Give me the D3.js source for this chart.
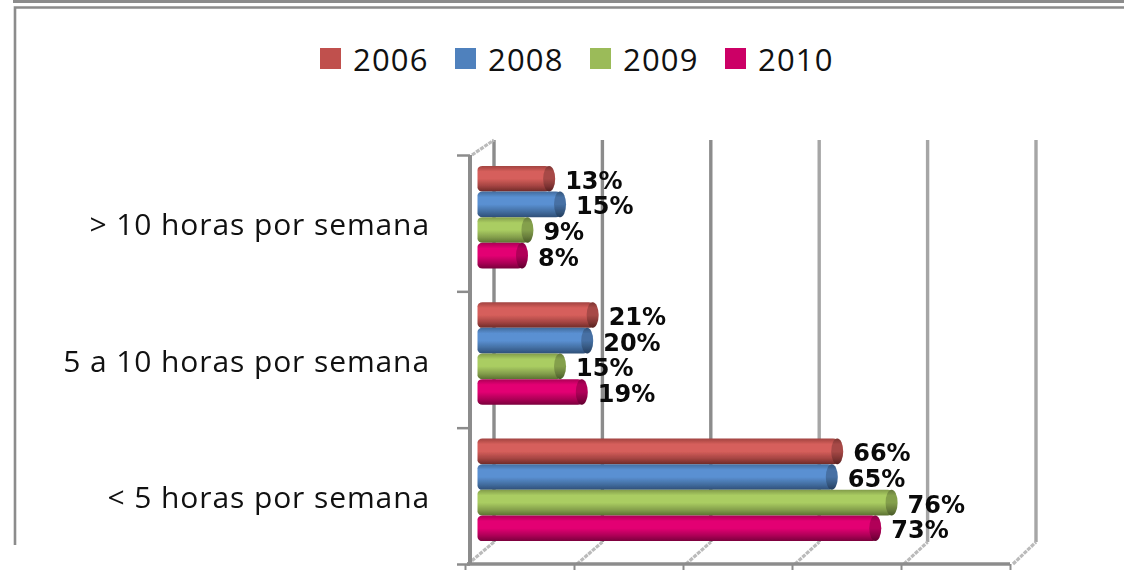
<!DOCTYPE html>
<html><head><meta charset="utf-8">
<script src="https://cdn.jsdelivr.net/npm/d3@7/dist/d3.min.js"></script>
<style>html,body{margin:0;padding:0;background:#fff;overflow:hidden}svg{display:block}</style>
</head><body><div id="c"></div>
<script>
const categories = ["> 10 horas por semana","5 a 10 horas por semana","< 5 horas por semana"];
const years = ["2006","2008","2009","2010"];
const v2006 = [13,21,66];
const v2008 = [15,20,65];
const v2009 = [9,15,76];
const v2010 = [8,19,73];
const seriesValues = [v2006,v2008,v2009,v2010];
const xTicks = [0,20,40,60,80,100];
const colors = ["#C0504D","#4F81BD","#9BBB59","#CC0066"];
const mids   = ["#D65F5B","#5A90D2","#AACD62","#E30073"];
const darks  = ["#6E2A28","#2F4F78","#5B7232","#7A003C"];

const W=1124,H=571;
const svg=d3.select("#c").append("svg").attr("width",W).attr("height",H);
const defs=svg.append("defs");
const soft=defs.append("filter").attr("id","soft").attr("x","-5%").attr("y","-15%").attr("width","110%").attr("height","130%");
soft.append("feGaussianBlur").attr("stdDeviation",0.7);
years.forEach((y,i)=>{
  const g=defs.append("linearGradient").attr("id","g"+i).attr("x1",0).attr("y1",0).attr("x2",0).attr("y2",1);
  [[0,d3.color(colors[i]).darker(0.5)],[0.22,mids[i]],[0.5,mids[i]],[0.78,d3.color(colors[i]).darker(0.45)],[1,darks[i]]]
   .forEach(s=>g.append("stop").attr("offset",s[0]).attr("stop-color",s[1]));
});

const plotTop=155, plotBottom=564, backBottom=542, backTop=140;
const x=d3.scaleLinear().domain([0,100]).range([465,1010]);
const xBack=d3.scaleLinear().domain([0,100]).range([494,1036]);
const xMid=d3.scaleLinear().domain([0,100]).range([479.5,1023]);
const y=d3.scaleBand().domain(categories).range([plotTop,plotBottom]);
const inner=d3.scaleBand().domain(years).range([0,y.bandwidth()]).paddingOuter(0.66).paddingInner(0);
const gray="#8c8c8c";

// outer frame
const frame=svg.append("g").attr("fill","none").attr("stroke",gray);
frame.append("path").attr("d",`M13,1.5H${W}`).attr("stroke-width",3);
frame.append("path").attr("d",`M15,545V7.5H${W}`).attr("stroke-width",2.6);

// back wall lines and floor diagonals
const grid=svg.append("g");
grid.selectAll("line.v").data(xTicks).join("line").attr("class","v")
  .attr("x1",d=>xBack(d)).attr("x2",d=>xBack(d)).attr("y1",backTop).attr("y2",backBottom)
  .attr("stroke",(d,i)=>i<3?gray:"#a6a6a6").attr("stroke-width",3.4);
grid.selectAll("line.d").data(xTicks).join("line").attr("class","d")
  .attr("x1",d=>x(d)+3).attr("x2",d=>xBack(d)).attr("y1",plotBottom).attr("y2",backBottom)
  .attr("stroke","#bbb").attr("stroke-width",3.2).attr("stroke-dasharray","4 1");
grid.append("line").attr("x1",472).attr("x2",xBack(0)).attr("y1",plotTop).attr("y2",backTop)
  .attr("stroke","#bbb").attr("stroke-width",3.2).attr("stroke-dasharray","4 1");

// axes
const xAxis=d3.axisBottom(x).tickValues(xTicks).tickSize(6).tickFormat("");
svg.append("g").attr("transform",`translate(0,${plotBottom})`).call(xAxis)
  .call(g=>g.select(".domain").attr("stroke",gray).attr("stroke-width",3.4).attr("d",`M467,0H1010`))
  .call(g=>g.selectAll("line").attr("stroke",gray).attr("stroke-width",2));
const yEdges=d3.axisLeft(d3.scaleLinear().domain([0,3]).range([plotBottom,plotTop])).ticks(3).tickSize(13).tickFormat("");
svg.append("g").attr("transform",`translate(470,0)`).call(yEdges)
  .call(g=>g.select(".domain").attr("stroke",gray).attr("stroke-width",4).attr("d",`M0,${plotTop}V${plotBottom}`))
  .call(g=>g.selectAll("line").attr("stroke",gray).attr("stroke-width",2.5));

// bars
const midY=-6;
const rows=[];
seriesValues.forEach((vals,s)=>vals.forEach((v,c)=>rows.push({s,c,v})));
const bars=svg.append("g").attr("filter","url(#soft)");
const rowY=d=>y(categories[d.c])+inner(years[d.s])+midY;
const bh=inner.bandwidth();
const rx=6;
const drawn=bars.selectAll("g").data(rows).join("g");
drawn.append("rect").attr("x",xMid(0)-2).attr("y",rowY).attr("width",d=>xMid(d.v)-xMid(0)+2).attr("height",bh)
  .attr("rx",5).attr("ry",4).attr("fill",d=>`url(#g${d.s})`);
drawn.append("ellipse").attr("cx",d=>xMid(d.v)-1).attr("cy",d=>rowY(d)+bh/2).attr("rx",rx).attr("ry",bh/2)
  .attr("fill",d=>`url(#g${d.s})`);
drawn.append("ellipse").attr("cx",d=>xMid(d.v)-1).attr("cy",d=>rowY(d)+bh/2).attr("rx",rx).attr("ry",bh/2)
  .attr("fill","#000").attr("opacity",0.22);

// value labels
svg.append("g").selectAll("text").data(rows).join("text")
  .attr("x",d=>xMid(d.v)+15).attr("y",d=>rowY(d)+bh/2+3)
  .attr("dominant-baseline","middle")
  .attr("font-family","DejaVu Sans").attr("font-weight",700).attr("font-size",24).attr("fill","#0a0a0a")
  .text(d=>d.v+"%");

// category labels
svg.append("g").selectAll("text").data(categories).join("text")
  .attr("x",430).attr("y",d=>y(d)+y.bandwidth()/2+4).attr("text-anchor","end")
  .attr("dominant-baseline","middle")
  .attr("font-family","Open Sans").attr("font-size",30).attr("letter-spacing",0.9).attr("fill","#111").text(d=>d);

// legend
const legendX=d3.scalePoint().domain(years).range([320,725]);
const leg=svg.append("g").selectAll("g").data(years).join("g").attr("transform",d=>`translate(${legendX(d)},48)`);
leg.append("rect").attr("width",21).attr("height",21).attr("fill",(d,i)=>colors[i]);
leg.append("text").attr("x",33).attr("y",22.5).attr("font-family","Open Sans").attr("font-size",31).attr("letter-spacing",1.2).attr("fill","#111").text(d=>d);
</script></body></html>
